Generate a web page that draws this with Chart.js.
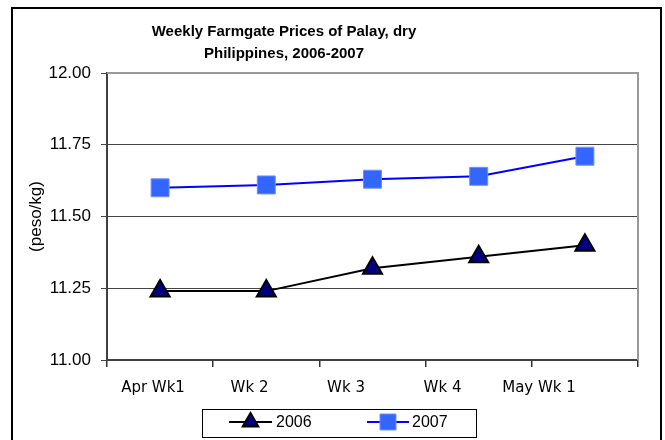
<!DOCTYPE html>
<html>
<head>
<meta charset="utf-8">
<script src="https://cdn.jsdelivr.net/npm/chart.js@4/dist/chart.umd.min.js"></script>
<style>
  html, body { margin: 0; padding: 0; background: #fff; }
  #wrap { width: 665px; height: 440px; position: relative; }
</style>
</head>
<body>
<div id="wrap"><canvas id="c" width="665" height="440"></canvas></div>
<script>
const categories = ['Apr Wk1', 'Wk 2', 'Wk 3', 'Wk 4', 'May Wk 1'];
const series2006 = [11.24, 11.24, 11.32, 11.36, 11.40];
const series2007 = [11.60, 11.61, 11.63, 11.64, 11.71];
const yTicks = [11.00, 11.25, 11.50, 11.75, 12.00];
const titleLines = ['Weekly Farmgate Prices of Palay, dry', 'Philippines, 2006-2007'];
const yAxisTitle = '(peso/kg)';
const seriesNames = ['2006', '2007'];

const frame = {
  id: 'frame',
  afterDraw(chart) {
    const ctx = chart.ctx;
    const a = chart.chartArea;
    ctx.save();
    // outer border
    ctx.strokeStyle = '#000';
    ctx.lineWidth = 2;
    ctx.strokeRect(12, 8, 649, 445);
    // plot area top / right border
    ctx.strokeStyle = '#999';
    ctx.lineWidth = 2;
    ctx.beginPath();
    ctx.moveTo(a.left, a.top);
    ctx.lineTo(a.right, a.top);
    ctx.lineTo(a.right, a.bottom);
    ctx.stroke();
    // title
    ctx.fillStyle = '#000';
    ctx.font = 'bold 15px "Liberation Sans", Arial, sans-serif';
    ctx.textAlign = 'center';
    ctx.textBaseline = 'middle';
    ctx.fillText(titleLines[0], 284, 32);
    ctx.fillText(titleLines[1], 284, 54);
    // legend
    ctx.strokeStyle = '#000';
    ctx.lineWidth = 1;
    ctx.strokeRect(202.5, 409.5, 274, 28);
    const items = [
      {x0: 229, x1: 272, tx: 276, ds: chart.data.datasets[0]},
      {x0: 367, x1: 409, tx: 412, ds: chart.data.datasets[1]}
    ];
    const ly = 422;
    items.forEach(it => {
      const ds = it.ds;
      ctx.strokeStyle = ds.borderColor;
      ctx.lineWidth = ds.borderWidth;
      ctx.beginPath();
      ctx.moveTo(it.x0, ly);
      ctx.lineTo(it.x1, ly);
      ctx.stroke();
      const cx = (it.x0 + it.x1) / 2;
      ctx.fillStyle = ds.pointBackgroundColor;
      ctx.strokeStyle = ds.pointBorderColor;
      ctx.lineWidth = ds.pointBorderWidth;
      ctx.beginPath();
      if (ds.pointStyle === 'triangle') {
        const r = 9;
        ctx.moveTo(cx, ly - r);
        ctx.lineTo(cx + r * 0.866, ly + r / 2);
        ctx.lineTo(cx - r * 0.866, ly + r / 2);
        ctx.closePath();
      } else {
        ctx.rect(cx - 8, ly - 8, 16, 16);
      }
      ctx.fill();
      ctx.stroke();
      ctx.fillStyle = '#000';
      ctx.font = '16px "Liberation Sans", Arial, sans-serif';
      ctx.textAlign = 'left';
      ctx.textBaseline = 'middle';
      ctx.fillText(ds.label, it.tx, ly + 1);
    });
    ctx.restore();
  }
};

new Chart(document.getElementById('c'), {
  type: 'line',
  data: {
    labels: categories,
    datasets: [
      {
        label: seriesNames[0],
        data: series2006,
        borderColor: '#000000',
        borderWidth: 2,
        pointStyle: 'triangle',
        pointRadius: 11,
        pointHoverRadius: 11,
        pointBackgroundColor: '#000080',
        pointBorderColor: '#000000',
        pointBorderWidth: 2,
        tension: 0,
        xAxisID: 'x'
      },
      {
        label: seriesNames[1],
        data: series2007,
        borderColor: '#0000FF',
        borderWidth: 2,
        pointStyle: 'rect',
        pointRadius: 12.7,
        pointHoverRadius: 12.7,
        pointBackgroundColor: '#3366FF',
        pointBorderColor: '#6F8FFF',
        pointBorderWidth: 1,
        tension: 0,
        xAxisID: 'x'
      }
    ]
  },
  options: {
    responsive: false,
    animation: false,
    events: [],
    layout: { padding: { left: 12, right: 27, top: 73, bottom: 30 } },
    plugins: {
      legend: { display: false },
      title: { display: false },
      tooltip: { enabled: false }
    },
    scales: {
      x: {
        type: 'category',
        position: 'bottom',
        weight: 0,
        offset: true,
        grid: {
          display: true,
          drawOnChartArea: false,
          drawTicks: true,
          offset: true,
          tickLength: 7,
          color: '#333',
          lineWidth: 1.5
        },
        border: { display: true, color: '#404040', width: 2 },
        ticks: { display: false },
        afterFit(scale) { scale.height = 8; }
      },
      x2: {
        type: 'linear',
        position: 'bottom',
        weight: 1,
        min: -0.477,
        max: 5.026,
        afterBuildTicks(scale) { scale.ticks = categories.map((c, i) => ({ value: i })); },
        grid: { display: false, drawTicks: false },
        border: { display: false },
        ticks: {
          autoSkip: false,
          maxRotation: 0,
          padding: 11,
          color: '#000',
          font: { family: '"DejaVu Sans", sans-serif', size: 15 },
          callback(v) {
            return (Number.isInteger(v) && v >= 0 && v < categories.length) ? categories[v] : '';
          }
        },
        afterFit(scale) { scale.height = 42; }
      },
      y: {
        type: 'linear',
        min: 11.0,
        max: 12.0,
        afterBuildTicks(scale) { scale.ticks = yTicks.map(v => ({ value: v })); },
        grid: {
          color: '#444',
          lineWidth: 1,
          drawTicks: true,
          tickLength: 6
        },
        border: { display: true, color: '#404040', width: 2 },
        ticks: {
          padding: 10,
          color: '#000',
          font: { family: '"Liberation Sans", Arial, sans-serif', size: 17 },
          callback(v) { return Number(v).toFixed(2); }
        },
        title: {
          display: true,
          text: yAxisTitle,
          color: '#000',
          font: { family: '"Liberation Sans", Arial, sans-serif', size: 17 },
          padding: { top: 14, bottom: 0 }
        },
        afterFit(scale) { scale.width = 95; }
      }
    }
  },
  plugins: [frame]
});
</script>
</body>
</html>
